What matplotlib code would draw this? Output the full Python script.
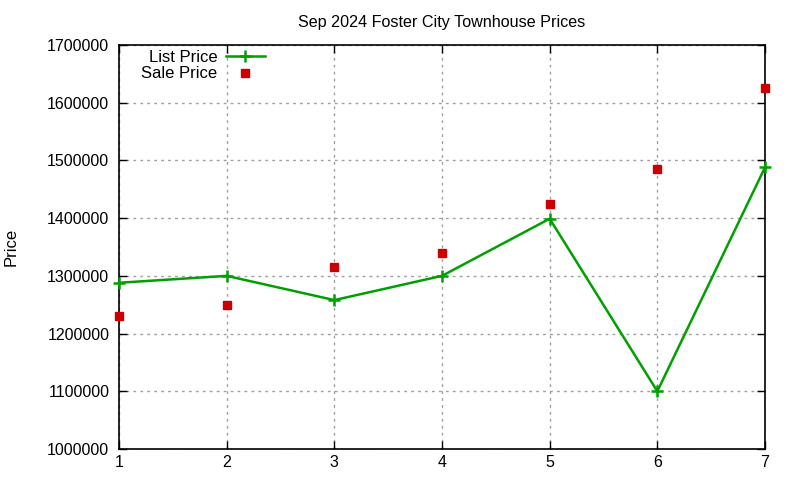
import matplotlib
matplotlib.use("Agg")
import matplotlib.pyplot as plt

days = [1, 2, 3, 4, 5, 6, 7]
list_price = [1288000, 1300000, 1258000, 1300000, 1399000, 1100000, 1488000]
sale_price = [1230000, 1249000, 1315000, 1339000, 1425000, 1485000, 1625000]
yticks = [1000000, 1100000, 1200000, 1300000, 1400000, 1500000, 1600000, 1700000]
title = "Sep 2024 Foster City Townhouse Prices"

plt.rcParams['font.family'] = ['Liberation Sans', 'DejaVu Sans']

fig = plt.figure(figsize=(8, 4.8), dpi=100)
ax = fig.add_axes([119/800, 1-449/480, (765-119)/800, (449-45)/480])

ax.plot(days, list_price, color='#00a000', linewidth=1.8, marker='+',
        markersize=9, markeredgewidth=1.8, label='List Price', zorder=3,
        clip_on=False)
ax.plot(days, sale_price, linestyle='none', color='#cc0000', marker='s',
        markersize=6, label='Sale Price', zorder=4, clip_on=False)

ax.set_xlim(1, 7)
ax.set_ylim(1000000, 1700000)
ax.set_xticks(days)
ax.set_yticks(yticks)
ax.set_yticklabels([str(v) for v in yticks])
ax.tick_params(direction='in', top=True, right=True, labelsize=11.5, length=6,
               width=1)
ax.tick_params(axis='y', pad=7)
ax.tick_params(axis='x', pad=4.5)
ax.grid(True, color='#a0a0a0', linestyle=(0, (2, 3)), linewidth=1)
for s in ax.spines.values():
    s.set_linewidth(1.2)

ax.set_title(title, fontsize=11.6, pad=13)
ax.set_ylabel('Price', fontsize=12)
ax.yaxis.set_label_coords((19-119)/646, 0.5)

ax.legend(loc='upper left', bbox_to_anchor=(0.014, 1.02), frameon=False,
          markerfirst=False, fontsize=12, handlelength=2.35, handletextpad=0.5,
          labelspacing=0.07, borderpad=0.3)

fig.savefig('out.png', dpi=100)
